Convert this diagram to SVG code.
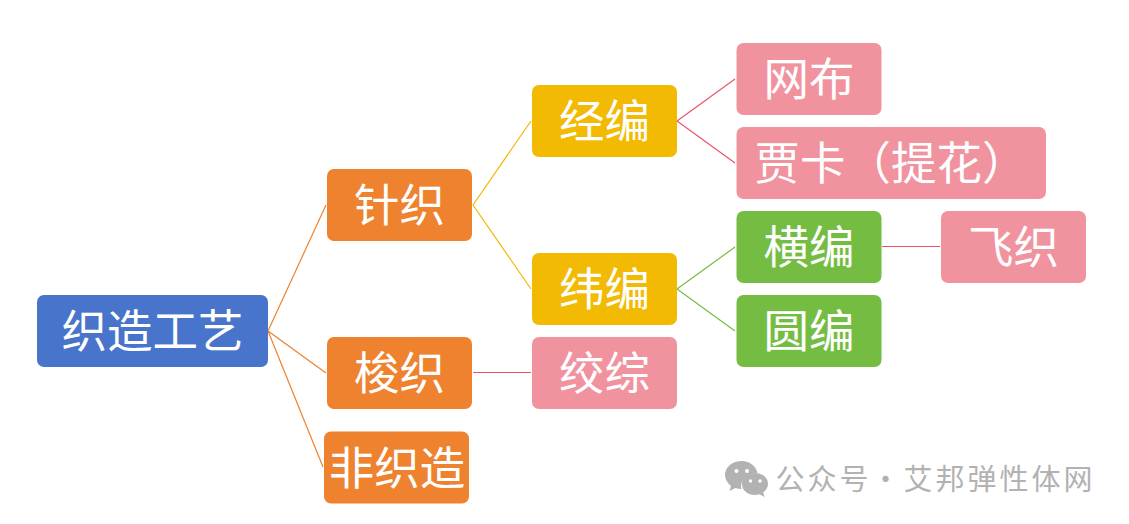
<svg xmlns="http://www.w3.org/2000/svg" width="1129" height="524" viewBox="0 0 1129 524">
<style>
.n{stroke:none}
.blue{fill:#4874cb}.orange{fill:#ee822f}.yellow{fill:#f2ba02}.pink{fill:#f0939f}.green{fill:#75bd42}
text{font-family:"Noto Sans CJK SC","Noto Sans",sans-serif}
.t{fill:#fff;font-size:45.500px;text-anchor:middle;dominant-baseline:central;font-weight:400}
.c{fill:none;stroke-width:1.2}
.wm{fill:#b2b2b2;font-size:29px}
</style>
<rect width="1129" height="524" fill="#fff"/>
<g id="connectors">
<path class="c" stroke="#ee822f" d="M326 205L268 331L326 373M268 331L323 467"/>
<path class="c" stroke="#f2ba02" d="M531 121L473 205L531 289"/>
<path class="c" stroke="#e9546b" d="M473 372.500H531M735 79L677 121L735 163M882 246.500H940"/>
<path class="c" stroke="#75bd42" d="M735 247L677 289L735 331"/>
</g>
<g id="root"><rect class="blue" x="37" y="295" width="231" height="72" rx="7"/><text class="t" x="152.500" y="328">织造工艺</text></g>
<g id="zhenzhi"><rect class="orange" x="327" y="169" width="145" height="72" rx="7"/><text class="t" x="399.500" y="202">针织</text></g>
<g id="suozhi"><rect class="orange" x="327" y="337" width="145" height="72" rx="7"/><text class="t" x="399.500" y="370">梭织</text></g>
<g id="feizhizao"><rect class="orange" x="324" y="431.500" width="145" height="72" rx="7"/><text class="t" x="397" y="464.500">非织造</text></g>
<g id="jingbian"><rect class="yellow" x="532" y="85" width="145" height="72" rx="7"/><text class="t" x="604.500" y="118">经编</text></g>
<g id="weibian"><rect class="yellow" x="532" y="253" width="145" height="72" rx="7"/><text class="t" x="604.500" y="286">纬编</text></g>
<g id="jiaozong"><rect class="pink" x="532" y="337" width="145" height="72" rx="7"/><text class="t" x="604.500" y="370">绞综</text></g>
<g id="wangbu"><rect class="pink" x="736.500" y="43" width="145" height="72" rx="7"/><text class="t" x="809" y="76">网布</text></g>
<g id="jiaka"><rect class="pink" x="736.500" y="127" width="309.500" height="72" rx="7"/><text class="t" x="891" y="160">贾卡（提花）</text></g>
<g id="hengbian"><rect class="green" x="736.500" y="211" width="145" height="72" rx="7"/><text class="t" x="809" y="244">横编</text></g>
<g id="yuanbian"><rect class="green" x="736.500" y="295" width="145" height="72" rx="7"/><text class="t" x="809" y="328">圆编</text></g>
<g id="feizhi"><rect class="pink" x="941" y="211" width="145" height="72" rx="7"/><text class="t" x="1013.500" y="244">飞织</text></g>
<g id="watermark">
<path fill="#b2b2b2" d="M742 461c-9.500 0-17 6-17 14 0 4.500 2.500 8 6 11l-1.500 5 6-3c2 .6 4 .9 6 .9-2-6 3-15.500 16-16-1.500-7-7.500-12-15.500-12z"/>
<path fill="#b2b2b2" d="M755 473c-7.500 0-13 4.800-13 11s5.500 11 13 11c1.600 0 3-.2 4.500-.7l5 2.700-1.300-4.500c2.700-2 4.800-5 4.800-8.500 0-6.200-5.500-11-13-11z"/>
<g fill="#fff"><circle cx="736.500" cy="471" r="2"/><circle cx="747" cy="471" r="2"/><circle cx="750.500" cy="481" r="1.700"/><circle cx="760" cy="481" r="1.700"/></g>
<text class="wm" x="775.500 807.500 839.500" y="490">公众号</text>
<text class="wm" x="871" y="490">·</text>
<text class="wm" x="903.500 935.500 967.500 999.500 1031.500 1063.500" y="490">艾邦弹性体网</text>
</g>
</svg>
